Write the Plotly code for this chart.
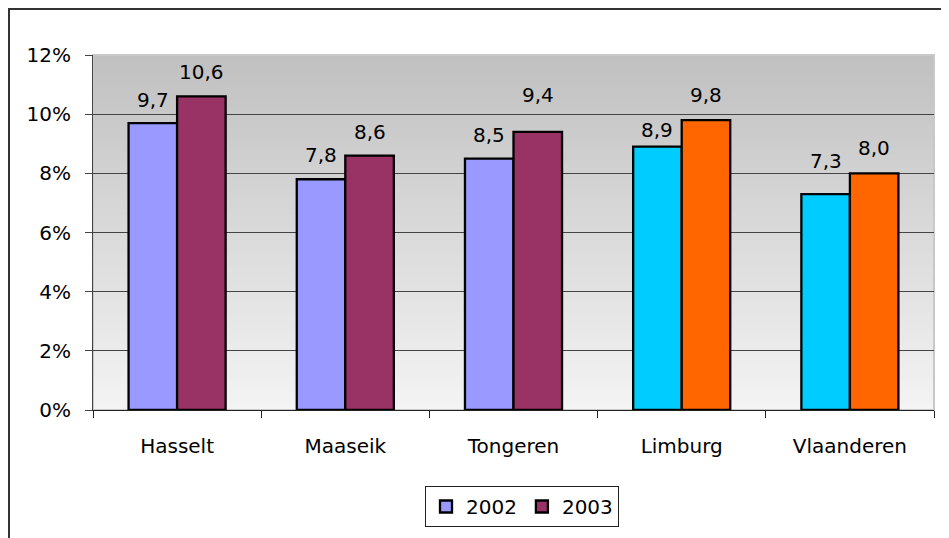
import plotly.graph_objects as go

categories = ["Hasselt", "Maaseik", "Tongeren", "Limburg", "Vlaanderen"]
values_2002 = [9.7, 7.8, 8.5, 8.9, 7.3]
values_2003 = [10.6, 8.6, 9.4, 9.8, 8.0]
series_names = ["2002", "2003"]
y_tick_values = [0, 2, 4, 6, 8, 10, 12]
y_tick_labels = ["0%", "2%", "4%", "6%", "8%", "10%", "12%"]

# styling
colors_2002 = ["#9999ff", "#9999ff", "#9999ff", "#00ccff", "#00ccff"]
colors_2003 = ["#993366", "#993366", "#993366", "#ff6600", "#ff6600"]
label_shift_2002 = [23, 24, 24, 17, 33]
label_shift_2003 = [24, 24, 37, 25, 25]

FONT = "DejaVu Sans"
FS = 20

# page places the figure at (8, 8); coordinates below are window pixels
OFF = 8
FIG_W, FIG_H = 949 - OFF, 538 - OFF
L, T, R, B = 93, 55, 934, 410
W, H = R - L, B - T


def px_x(px):
    return (px - L) / W


def px_y(py):
    return (B - py) / H


fig = go.Figure()
for name, vals, cols in [(series_names[0], values_2002, colors_2002),
                         (series_names[1], values_2003, colors_2003)]:
    fig.add_trace(go.Bar(
        x=categories, y=vals, name=name,
        marker=dict(color=cols, line=dict(color="black", width=2.3)),
        hoverinfo="x+y",
    ))

annotations = []
for vals, shifts, xs in [(values_2002, label_shift_2002, -24.3),
                         (values_2003, label_shift_2003, 24.3)]:
    for c, v, s in zip(categories, vals, shifts):
        annotations.append(dict(
            x=c, y=v, xref="x", yref="y", text=f"{v:.1f}".replace(".", ","),
            showarrow=False, xshift=xs, yshift=s, yanchor="middle",
            font=dict(family=FONT, size=FS, color="black"),
        ))

# gradient plot background (grey at top to near-white at bottom)
shapes = []
n = 80
top_c, bot_c = 192, 244
for i in range(n):
    y0 = i / n
    y1 = (i + 1) / n
    t = (i + 0.5) / n
    g = round(bot_c + (top_c - bot_c) * t)
    shapes.append(dict(type="rect", xref="paper", yref="paper", x0=0, x1=1,
                       y0=y0, y1=min(1, y1 + 0.002), line=dict(width=0),
                       fillcolor=f"rgb({g},{g},{g})", layer="below"))
# light border around plot area
shapes.append(dict(type="rect", xref="paper", yref="paper", x0=0, x1=1, y0=0, y1=1,
                   line=dict(color="#c8c8c8", width=2), fillcolor="rgba(0,0,0,0)",
                   layer="below"))
# outer chart frame (only left and top visible)
shapes.append(dict(type="rect", xref="paper", yref="paper",
                   x0=px_x(OFF + 1), x1=px_x(980), y0=px_y(580), y1=px_y(OFF + 1),
                   line=dict(color="#333333", width=2), fillcolor="rgba(0,0,0,0)",
                   layer="above"))

fig.update_layout(
    width=FIG_W, height=FIG_H,
    margin=dict(l=L - OFF, r=949 - R, t=T - OFF, b=538 - B, autoexpand=False),
    paper_bgcolor="white", plot_bgcolor="rgba(0,0,0,0)",
    barmode="group", bargap=0.423, bargroupgap=0,
    font=dict(family=FONT, size=FS, color="black"),
    showlegend=True,
    legend=dict(orientation="h", x=px_x(522), xanchor="center",
                y=px_y(486), yanchor="top",
                bordercolor="#222222", borderwidth=1, bgcolor="white",
                font=dict(family=FONT, size=FS), itemwidth=30,
                tracegroupgap=0),
    annotations=annotations,
    shapes=shapes,
)
fig.update_xaxes(
    type="category", showline=True, linecolor="#222222", linewidth=1,
    ticks="outside", tickson="boundaries", ticklen=7, tickcolor="#222222",
    showgrid=False, ticklabelstandoff=18,
    tickfont=dict(family=FONT, size=FS),
)
fig.update_yaxes(
    range=[0, 12], tickvals=y_tick_values, ticktext=y_tick_labels,
    showline=True, linecolor="#444444", linewidth=1,
    ticks="outside", ticklen=7, tickcolor="#444444",
    showgrid=True, gridcolor="#444444", gridwidth=1, zeroline=False,
    ticklabelstandoff=10,
    tickfont=dict(family=FONT, size=FS),
)

fig.write_html("out.html")
